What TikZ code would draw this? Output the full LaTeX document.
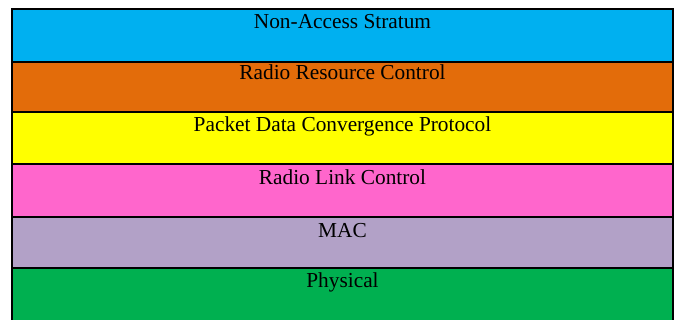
\documentclass[tikz,border=0pt]{standalone}
\usepackage{fontspec}
\setmainfont{Liberation Serif}
\usetikzlibrary{positioning}
\definecolor{nascyan}{RGB}{0,176,240}
\definecolor{rrcorange}{RGB}{227,108,10}
\definecolor{pdcpyellow}{RGB}{255,255,0}
\definecolor{rlcpink}{RGB}{255,102,204}
\definecolor{macpurple}{RGB}{178,161,199}
\definecolor{phygreen}{RGB}{0,176,80}

\begin{document}
\begin{tikzpicture}[x=0.75pt,y=-0.75pt,
    layer/.style={draw=black,line width=1.5pt},
    lbl/.style={anchor=base,inner sep=0pt,font=\fontsize{16}{19}\selectfont}]
    \useasboundingbox (0,0) rectangle (679,320);
    \clip (0,0) rectangle (679,320);

    % Layers
    \draw[layer,fill=nascyan] (12,9) rectangle (673,62);
    \draw[layer,fill=rrcorange] (12,62) rectangle (673,112);
    \draw[layer,fill=pdcpyellow] (12,112) rectangle (673,164);
    \draw[layer,fill=rlcpink] (12,164) rectangle (673,217.5);
    \draw[layer,fill=macpurple] (12,217.5) rectangle (673,268);
    \draw[layer,fill=phygreen] (12,268) rectangle (673,324);

    % Labels
    \node[lbl] (nas) at (342.5,29) {Non-Access Stratum};
    \node[lbl] (rrc) at (342.5,80) {Radio Resource Control};
    \node[lbl] (pdcp) at (342.5,132) {Packet Data Convergence Protocol};
    \node[lbl] (rlc) at (342.5,185) {Radio Link Control};
    \node[lbl] (mac) at (342.5,238) {MAC};
    \node[lbl] (phy) at (342.5,288) {Physical};
\end{tikzpicture}
\end{document}
